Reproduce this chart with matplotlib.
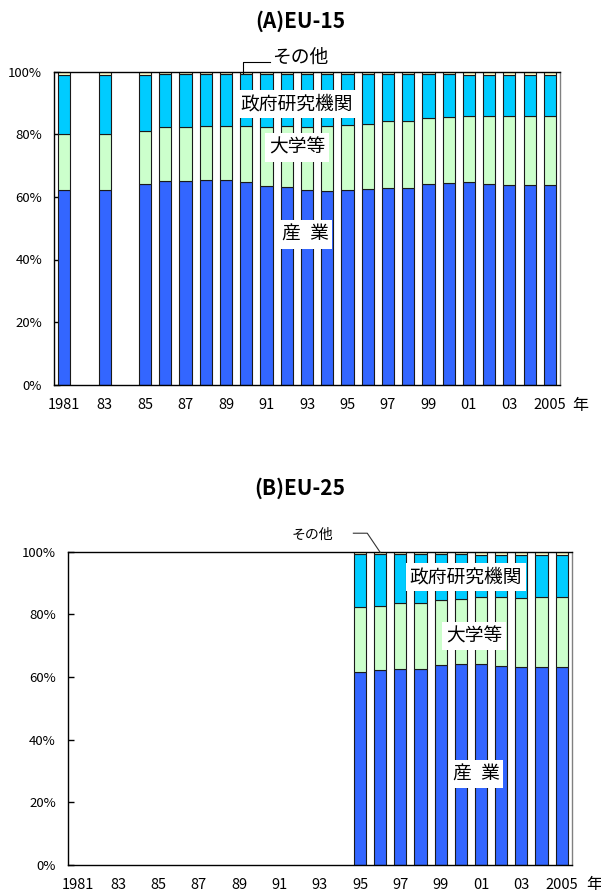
import numpy as np
import matplotlib
matplotlib.use("Agg")
import matplotlib.pyplot as plt

plt.rcParams['font.family'] = ['Noto Sans CJK JP', 'DejaVu Sans']

# ---------------- data ----------------
years = list(range(1981, 2006))
tick_years = [1981, 1983, 1985, 1987, 1989, 1991, 1993, 1995, 1997, 1999, 2001, 2003, 2005]
tick_labels = ["1981", "83", "85", "87", "89", "91", "93", "95", "97", "99", "01", "03", "2005"]
nan = np.nan

# (A) EU-15, shares (%) by sector
a_industry = [62.3, nan, 62.3, nan, 64.1, 65.2, 65.1, 65.4, 65.3, 64.9, 63.5, 63.2, 62.2,
              62.0, 62.2, 62.4, 62.8, 63.0, 64.2, 64.6, 64.7, 64.1, 63.8, 63.8, 63.8]
a_university = [17.7, nan, 17.7, nan, 16.9, 17.1, 17.2, 17.2, 17.4, 17.7, 18.8, 19.4, 20.2,
                20.6, 20.7, 21.0, 21.4, 21.3, 21.0, 20.9, 21.3, 21.9, 22.1, 22.1, 22.1]
a_government = [18.8, nan, 19.0, nan, 18.1, 17.0, 17.0, 16.7, 16.6, 16.7, 17.0, 16.7, 16.9,
                16.7, 16.3, 15.8, 15.0, 14.9, 14.0, 13.7, 12.9, 12.9, 13.0, 13.0, 13.0]
a_other = [1.2, nan, 1.0, nan, 0.9, 0.7, 0.7, 0.7, 0.7, 0.7, 0.7, 0.7, 0.7,
           0.7, 0.8, 0.8, 0.8, 0.8, 0.8, 0.8, 1.1, 1.1, 1.1, 1.1, 1.1]

# (B) EU-25, 1995-2005
b_years = list(range(1995, 2006))
b_industry = [61.7, 62.1, 62.5, 62.6, 63.7, 64.1, 64.1, 63.4, 63.2, 63.3, 63.1]
b_university = [20.7, 20.7, 21.1, 21.1, 20.8, 20.8, 21.4, 22.0, 22.1, 22.1, 22.4]
b_government = [16.8, 16.4, 15.6, 15.5, 14.7, 14.3, 13.5, 13.6, 13.7, 13.4, 13.3]
b_other = [0.8, 0.8, 0.8, 0.8, 0.8, 0.8, 1.0, 1.0, 1.0, 1.2, 1.2]

sector_colors = ["#3366FF", "#CCFFCC", "#00CCFF", "#FFFFCC"]

W, H = 601, 892
fig = plt.figure(figsize=(W / 100, H / 100), dpi=100)


def px_axes(left, top, right, bottom):
    return fig.add_axes([left / W, 1 - bottom / H, (right - left) / W, (bottom - top) / H])


def draw_panel(ax, yrs, series):
    idx = np.array([years.index(y) for y in yrs])
    base = np.zeros(len(yrs))
    for vals, col in zip(series, sector_colors):
        v = np.array(vals, dtype=float)
        ax.bar(idx, v, bottom=base, width=0.6, color=col, edgecolor="#1a1a1a",
               linewidth=0.8, zorder=2)
        base = base + np.nan_to_num(v)
    ax.set_xlim(-0.5, len(years) - 0.5)
    ax.set_ylim(0, 100)
    ax.set_yticks([0, 20, 40, 60, 80, 100])
    ax.set_yticklabels(["0%", "20%", "40%", "60%", "80%", "100%"])
    ax.set_xticks([years.index(y) for y in tick_years])
    ax.set_xticklabels(tick_labels)
    ax.tick_params(axis="y", direction="in", length=4, width=1, pad=8.5, labelsize=9.5)
    ax.tick_params(axis="x", length=0, pad=9.5, labelsize=10.5)
    for s in ["left", "bottom", "top"]:
        ax.spines[s].set_color("black")
        ax.spines[s].set_linewidth(1.0)
    ax.spines["right"].set_color("#808080")
    ax.spines["right"].set_linewidth(1.0)


box = dict(facecolor="white", edgecolor="none", pad=2.5)
lab_fs = 13.5

# ---- Panel A ----
axA = px_axes(54, 71.7, 560, 384.7)
draw_panel(axA, years, [a_industry, a_university, a_government, a_other])
axA.text(11.5, 89.7, "政府研究機関", ha="center", va="center", fontsize=lab_fs, bbox=box, zorder=5)
axA.text(11.5, 75.8, "大学等", ha="center", va="center", fontsize=lab_fs, bbox=box, zorder=5)
axA.text(11.9, 48.0, "産\u2002業", ha="center", va="center", fontsize=lab_fs, bbox=box, zorder=5)
axA.text(10.27, 104.7, "その他", ha="left", va="center", fontsize=13.5, clip_on=False)
axA.plot([10.17, 8.84, 8.84], [103.1, 103.1, 99.7], color="black", lw=0.8,
         clip_on=False, zorder=6)
fig.text(300 / W, 1 - 21 / H, "(A)EU-15", ha="center", va="center", fontsize=15, fontweight="bold")
fig.text(580 / W, 1 - 405 / H, "年", ha="center", va="center", fontsize=11.5)

# ---- Panel B ----
axB = px_axes(67.7, 551.7, 571.7, 865)
draw_panel(axB, b_years, [b_industry, b_university, b_government, b_other])
axB.text(19.26, 91.8, "政府研究機関", ha="center", va="center", fontsize=lab_fs, bbox=box, zorder=5)
axB.text(19.65, 73.1, "大学等", ha="center", va="center", fontsize=lab_fs, bbox=box, zorder=5)
axB.text(19.75, 29.0, "産\u2002業", ha="center", va="center", fontsize=lab_fs, bbox=box, zorder=5)
axB.text(11.64, 105.3, "その他", ha="center", va="center", fontsize=10, clip_on=False)
axB.plot([13.67, 14.36, 15.0], [105.9, 105.9, 99.8], color="#333333", lw=0.8,
         clip_on=False, zorder=6)
fig.text(300 / W, 1 - 488 / H, "(B)EU-25", ha="center", va="center", fontsize=15, fontweight="bold")
fig.text(594 / W, 1 - 884 / H, "年", ha="center", va="center", fontsize=11.5)

fig.savefig("out.png", dpi=100)
